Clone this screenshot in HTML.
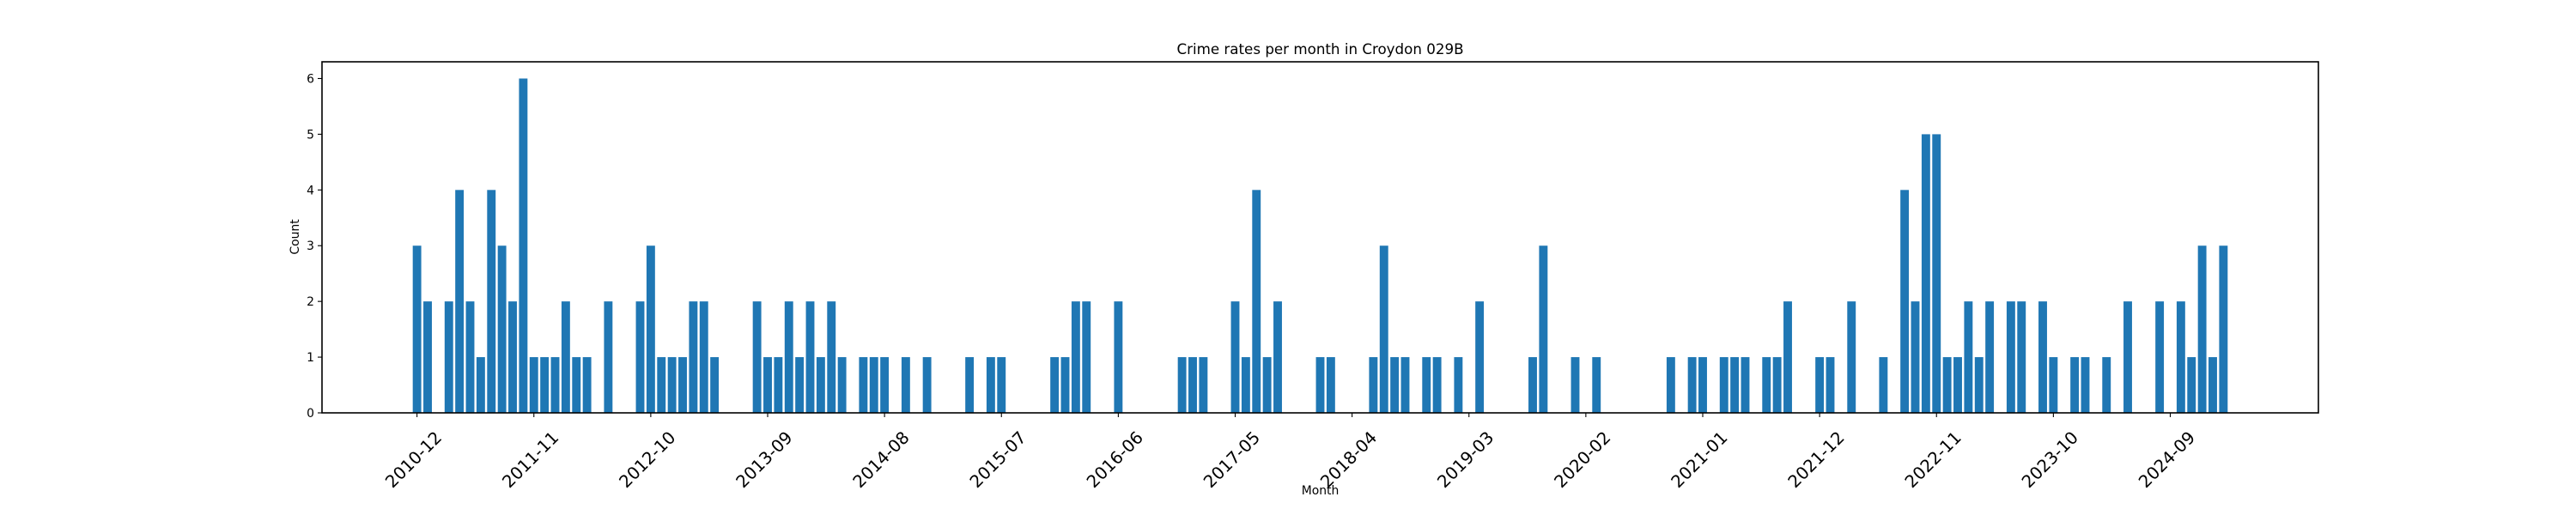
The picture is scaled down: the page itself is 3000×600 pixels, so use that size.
<!DOCTYPE html>
<html><head><meta charset="utf-8"><style>
html,body{margin:0;padding:0;background:#fff;}
svg{display:block;font-family:"DejaVu Sans","Liberation Sans",sans-serif;}
</style></head>
<body>
<svg id="chart" width="3000" height="600" viewBox="0 0 3000 600" xmlns="http://www.w3.org/2000/svg">
<rect x="0" y="0" width="3000" height="600" fill="#fff"/>
<text x="1537.5" y="63" font-size="16.7" text-anchor="middle" fill="#000">Crime rates per month in Croydon 029B</text>
<text x="1537.5" y="576" font-size="13.9" text-anchor="middle" fill="#000">Month</text>
<text transform="translate(348,276) rotate(-90)" font-size="13.9" text-anchor="middle" fill="#000">Count</text>
<g id="bars"></g>
<g id="xticks"></g>
<g id="yticks"></g>
<rect x="375" y="72" width="2325" height="409" fill="none" stroke="#000" stroke-width="1.6"/>
</svg>
<script>
const startYear = 2010;
const startMonth = 12;
const counts = [3,2,0,2,4,2,1,4,3,2,6,1,1,1,2,1,1,0,2,0,0,2,3,1,1,1,2,2,1,0,0,0,2,1,1,2,1,2,1,2,1,0,1,1,1,0,1,0,1,0,0,0,1,0,1,1,0,0,0,0,1,1,2,2,0,0,2,0,0,0,0,0,1,1,1,0,0,2,1,4,1,2,0,0,0,1,1,0,0,0,1,3,1,1,0,1,1,0,1,0,2,0,0,0,0,1,3,0,0,1,0,1,0,0,0,0,0,0,1,0,1,1,0,1,1,1,0,1,1,2,0,0,1,1,0,2,0,0,1,0,4,2,5,5,1,1,2,1,2,0,2,2,0,2,1,0,1,1,0,1,0,2,0,0,2,0,2,1,3,1,3];
const xTickLabels = ["2010-12","2011-11","2012-10","2013-09","2014-08","2015-07","2016-06","2017-05","2018-04","2019-03","2020-02","2021-01","2021-12","2022-11","2023-10","2024-09"];
const yTickValues = [0,1,2,3,4,5,6];

const months = [];
for (let i = 0; i < counts.length; i++) {
  const m = startMonth - 1 + i;
  const y = startYear + Math.floor(m / 12);
  months.push(y + "-" + String(m % 12 + 1).padStart(2, "0"));
}
const NS = "http://www.w3.org/2000/svg";
const L = 375, R = 2700, T = 72, B = 481;
const n = months.length;
const xmin = -0.4 - 0.05 * (n - 1 + 0.8), xmax = n - 1 + 0.4 + 0.05 * (n - 1 + 0.8);
const ymax = 6.3;
const xs = i => L + (i - xmin) / (xmax - xmin) * (R - L);
const ys = v => B - v / ymax * (B - T);
const bw = 0.8 * (R - L) / (xmax - xmin);

const gb = document.getElementById("bars");
counts.forEach((v, i) => {
  if (v <= 0) return;
  const r = document.createElementNS(NS, "rect");
  r.setAttribute("x", xs(i) - bw / 2);
  r.setAttribute("y", ys(v));
  r.setAttribute("width", bw);
  r.setAttribute("height", B - ys(v));
  r.setAttribute("fill", "#1f77b4");
  
  
  gb.appendChild(r);
});

const gx = document.getElementById("xticks");
xTickLabels.forEach(lab => {
  const i = months.indexOf(lab);
  if (i < 0) return;
  const x = xs(i);
  const t = document.createElementNS(NS, "line");
  t.setAttribute("x1", x); t.setAttribute("x2", x);
  t.setAttribute("y1", B); t.setAttribute("y2", B + 5);
  t.setAttribute("stroke", "#000"); t.setAttribute("stroke-width", "1.1");
  
  
  gx.appendChild(t);
  const tx = document.createElementNS(NS, "text");
  const xe = x + 30, ye = 511;
  tx.setAttribute("x", xe); tx.setAttribute("y", ye);
  tx.setAttribute("text-anchor", "end");
  tx.setAttribute("font-size", "19.8");
  tx.setAttribute("fill", "#000");
  tx.setAttribute("transform", "rotate(-45 " + xe + " " + ye + ")");
  tx.textContent = lab;
  
  
  gx.appendChild(tx);
});

const gy = document.getElementById("yticks");
yTickValues.forEach(v => {
  const y = ys(v);
  const t = document.createElementNS(NS, "line");
  t.setAttribute("x1", L - 5); t.setAttribute("x2", L);
  t.setAttribute("y1", y); t.setAttribute("y2", y);
  t.setAttribute("stroke", "#000"); t.setAttribute("stroke-width", "1.1");
  
  
  gy.appendChild(t);
  const tx = document.createElementNS(NS, "text");
  tx.setAttribute("x", L - 9); tx.setAttribute("y", y + 5);
  tx.setAttribute("text-anchor", "end");
  tx.setAttribute("font-size", "13.9");
  tx.setAttribute("fill", "#000");
  tx.textContent = String(v);
  
  
  gy.appendChild(tx);
});
</script>
</body></html>
